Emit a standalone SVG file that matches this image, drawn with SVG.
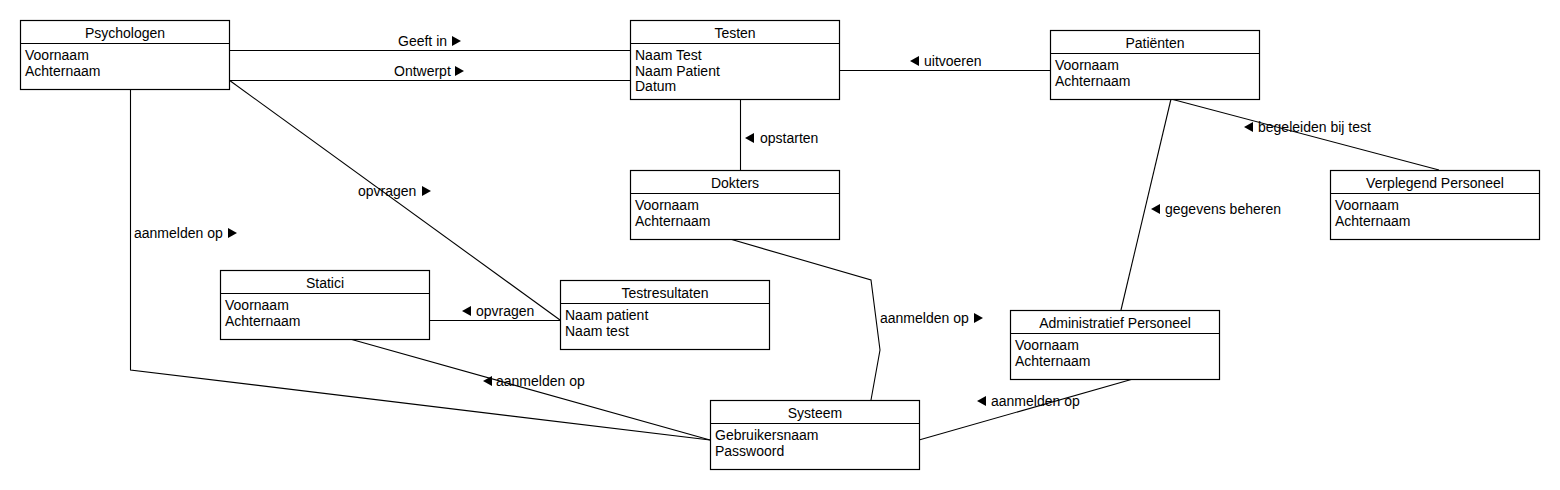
<svg xmlns="http://www.w3.org/2000/svg" width="1560" height="490" viewBox="0 0 1560 490">
<style>
text{font-family:"Liberation Sans",Arial,sans-serif;font-size:14px;fill:#000}
.t{text-anchor:middle}
.box{fill:#fff;stroke:#000;stroke-width:1.2}
.sep{stroke:#000;stroke-width:1.2}
.c{fill:none;stroke:#000;stroke-width:1.1}
.tri{fill:#000}
</style>
<rect width="1560" height="490" fill="#fff"/>
<g id="connectors">
<line class="c" x1="229" y1="50.5" x2="630" y2="50.5"/>
<line class="c" x1="229" y1="80.5" x2="630" y2="80.5"/>
<line class="c" x1="839" y1="70.5" x2="1050" y2="70.5"/>
<line class="c" x1="740.5" y1="99" x2="740.5" y2="170"/>
<line class="c" x1="1171" y1="99" x2="1439" y2="170"/>
<line class="c" x1="1171" y1="99" x2="1121" y2="310"/>
<line class="c" x1="229" y1="80" x2="560" y2="320"/>
<line class="c" x1="429" y1="320.5" x2="560" y2="320.5"/>
<polyline class="c" points="130.5,89 130.5,370 710,440"/>
<line class="c" x1="350" y1="339" x2="710" y2="440"/>
<polyline class="c" points="730,239 871,280 880,350 871,400"/>
<line class="c" x1="1133" y1="379" x2="919" y2="440"/>
<g id="labels">
<text x="398" y="46">Geeft in</text><polygon class="tri" points="452,36 461,41 452,46"/>
<text x="394" y="76">Ontwerpt</text><polygon class="tri" points="455,66 464,71 455,76"/>
<polygon class="tri" points="919,56 910,61 919,66"/><text x="924" y="66">uitvoeren</text>
<polygon class="tri" points="754,133 745,138 754,143"/><text x="760" y="143">opstarten</text>
<polygon class="tri" points="1253,122 1244,127 1253,132"/><text x="1258" y="132">begeleiden bij test</text>
<polygon class="tri" points="1160,204 1151,209 1160,214"/><text x="1165" y="214">gegevens beheren</text>
<text x="358" y="196">opvragen</text><polygon class="tri" points="422,186 431,191 422,196"/>
<text x="134" y="238">aanmelden op</text><polygon class="tri" points="228,228 237,233 228,238"/>
<polygon class="tri" points="471,306 462,311 471,316"/><text x="476" y="316">opvragen</text>
<polygon class="tri" points="492,376 483,381 492,386"/><text x="496" y="386">aanmelden op</text>
<text x="880" y="323">aanmelden op</text><polygon class="tri" points="974,313 983,318 974,323"/>
<polygon class="tri" points="986,396 977,401 986,406"/><text x="991" y="406">aanmelden op</text>
</g>
</g>
<g id="psychologen">
<rect class="box" x="20.5" y="20.5" width="209" height="69"/>
<line class="sep" x1="20.5" y1="43.5" x2="229.5" y2="43.5"/>
<text class="t" x="125" y="38">Psychologen</text>
<text x="25" y="60">Voornaam</text>
<text x="25" y="75.5">Achternaam</text>
</g>
<g id="testen">
<rect class="box" x="630.5" y="20.5" width="209" height="79"/>
<line class="sep" x1="630.5" y1="43.5" x2="839.5" y2="43.5"/>
<text class="t" x="735" y="38">Testen</text>
<text x="635" y="60">Naam Test</text>
<text x="635" y="75.5">Naam Patient</text>
<text x="635" y="91">Datum</text>
</g>
<g id="patienten">
<rect class="box" x="1050.5" y="30.5" width="209" height="69"/>
<line class="sep" x1="1050.5" y1="53.5" x2="1259.5" y2="53.5"/>
<text class="t" x="1155" y="48">Patiënten</text>
<text x="1055" y="70">Voornaam</text>
<text x="1055" y="85.5">Achternaam</text>
</g>
<g id="dokters">
<rect class="box" x="630.5" y="170.5" width="209" height="69"/>
<line class="sep" x1="630.5" y1="193.5" x2="839.5" y2="193.5"/>
<text class="t" x="735" y="188">Dokters</text>
<text x="635" y="210">Voornaam</text>
<text x="635" y="225.5">Achternaam</text>
</g>
<g id="verplegend">
<rect class="box" x="1330.5" y="170.5" width="209" height="69"/>
<line class="sep" x1="1330.5" y1="193.5" x2="1539.5" y2="193.5"/>
<text class="t" x="1435" y="188">Verplegend Personeel</text>
<text x="1335" y="210">Voornaam</text>
<text x="1335" y="225.5">Achternaam</text>
</g>
<g id="statici">
<rect class="box" x="220.5" y="270.5" width="209" height="69"/>
<line class="sep" x1="220.5" y1="293.5" x2="429.5" y2="293.5"/>
<text class="t" x="325" y="288">Statici</text>
<text x="225" y="310">Voornaam</text>
<text x="225" y="325.5">Achternaam</text>
</g>
<g id="testresultaten">
<rect class="box" x="560.5" y="280.5" width="209" height="69"/>
<line class="sep" x1="560.5" y1="303.5" x2="769.5" y2="303.5"/>
<text class="t" x="665" y="298">Testresultaten</text>
<text x="565" y="320">Naam patient</text>
<text x="565" y="335.5">Naam test</text>
</g>
<g id="administratief">
<rect class="box" x="1010.5" y="310.5" width="209" height="69"/>
<line class="sep" x1="1010.5" y1="333.5" x2="1219.5" y2="333.5"/>
<text class="t" x="1115" y="328">Administratief Personeel</text>
<text x="1015" y="350">Voornaam</text>
<text x="1015" y="365.5">Achternaam</text>
</g>
<g id="systeem">
<rect class="box" x="710.5" y="400.5" width="209" height="69"/>
<line class="sep" x1="710.5" y1="423.5" x2="919.5" y2="423.5"/>
<text class="t" x="815" y="418">Systeem</text>
<text x="715" y="440">Gebruikersnaam</text>
<text x="715" y="455.5">Passwoord</text>
</g>
</svg>
